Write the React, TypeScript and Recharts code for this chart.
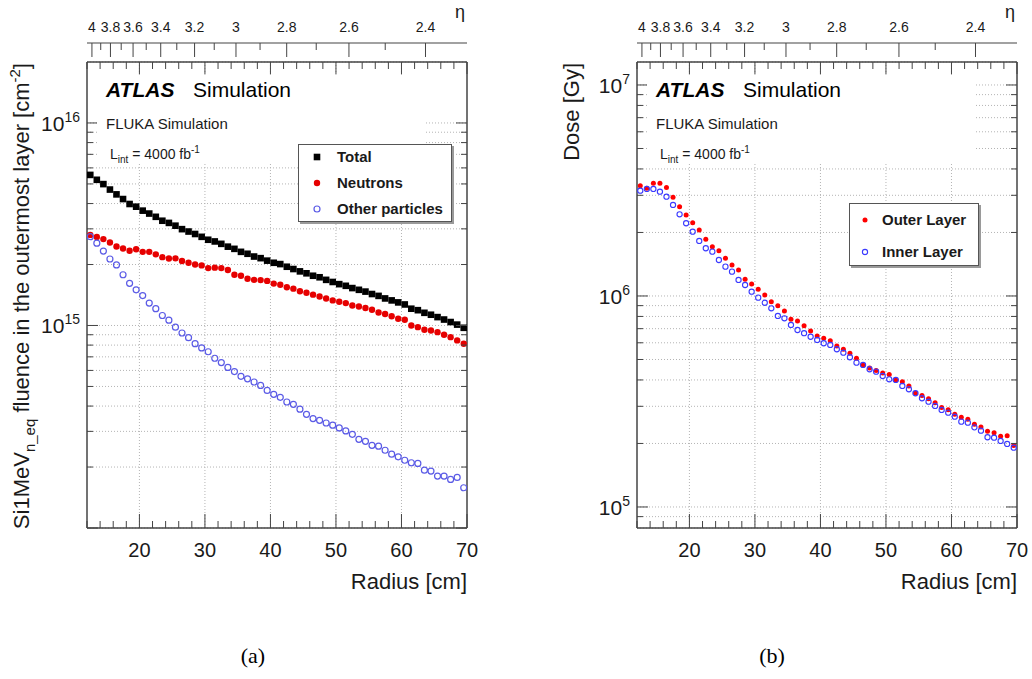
import React from 'react';
import { ScatterChart, Scatter, XAxis, YAxis, CartesianGrid, ReferenceLine, Legend } from 'recharts';

// radius of each simulated bin [cm]
const RADIUS = [
  12.5, 13.5, 14.5, 15.5, 16.5, 17.5, 18.5, 19.5, 20.5, 21.5, 22.5, 23.5, 24.5, 25.5, 26.5,
  27.5, 28.5, 29.5, 30.5, 31.5, 32.5, 33.5, 34.5, 35.5, 36.5, 37.5, 38.5, 39.5, 40.5, 41.5,
  42.5, 43.5, 44.5, 45.5, 46.5, 47.5, 48.5, 49.5, 50.5, 51.5, 52.5, 53.5, 54.5, 55.5, 56.5,
  57.5, 58.5, 59.5, 60.5, 61.5, 62.5, 63.5, 64.5, 65.5, 66.5, 67.5, 68.5, 69.5,
];

// (a) Si 1 MeV neq fluence [cm^-2]
const TOTAL = [
  5.54e15, 5.24e15, 4.99e15, 4.69e15, 4.44e15, 4.21e15, 3.98e15, 3.86e15, 3.69e15, 3.57e15,
  3.44e15, 3.29e15, 3.21e15, 3.11e15, 2.99e15, 2.91e15, 2.83e15, 2.74e15, 2.65e15, 2.6e15,
  2.53e15, 2.45e15, 2.39e15, 2.31e15, 2.26e15, 2.19e15, 2.15e15, 2.09e15, 2.04e15, 2.01e15,
  1.95e15, 1.9e15, 1.85e15, 1.81e15, 1.76e15, 1.73e15, 1.68e15, 1.64e15, 1.6e15, 1.57e15,
  1.53e15, 1.5e15, 1.47e15, 1.43e15, 1.4e15, 1.36e15, 1.33e15, 1.3e15, 1.27e15, 1.21e15,
  1.19e15, 1.155e15, 1.13e15, 1.1e15, 1.07e15, 1.04e15, 1.01e15, 0.974e15,
];
const NEUTRONS = [
  2.8e15, 2.735e15, 2.67e15, 2.57e15, 2.455e15, 2.4e15, 2.34e15, 2.38e15, 2.31e15, 2.31e15,
  2.245e15, 2.175e15, 2.14e15, 2.145e15, 2.08e15, 2.04e15, 2.0e15, 1.98e15, 1.92e15, 1.93e15,
  1.92e15, 1.88e15, 1.78e15, 1.76e15, 1.7e15, 1.68e15, 1.675e15, 1.66e15, 1.61e15, 1.59e15,
  1.545e15, 1.52e15, 1.475e15, 1.45e15, 1.42e15, 1.39e15, 1.36e15, 1.33e15, 1.31e15, 1.29e15,
  1.255e15, 1.24e15, 1.22e15, 1.195e15, 1.16e15, 1.14e15, 1.11e15, 1.08e15, 1.067e15, 1.0e15,
  0.981e15, 0.952e15, 0.945e15, 0.927e15, 0.9e15, 0.876e15, 0.844e15, 0.813e15,
];
const OTHER = [
  2.744e15, 2.55e15, 2.33e15, 2.13e15, 1.99e15, 1.78e15, 1.615e15, 1.5e15, 1.405e15, 1.29e15,
  1.21e15, 1.12e15, 1.062e15, 0.981e15, 0.918e15, 0.871e15, 0.813e15, 0.775e15, 0.742e15, 0.689e15,
  0.656e15, 0.621e15, 0.592e15, 0.561e15, 0.545e15, 0.526e15, 0.506e15, 0.478e15, 0.457e15, 0.442e15,
  0.419e15, 0.408e15, 0.386e15, 0.364e15, 0.347e15, 0.34e15, 0.33e15, 0.322e15, 0.312e15, 0.3015e15,
  0.29e15, 0.274e15, 0.268e15, 0.256e15, 0.2535e15, 0.242e15, 0.2315e15, 0.2245e15, 0.216e15, 0.21e15,
  0.2084e15, 0.193e15, 0.191e15, 0.1804e15, 0.1804e15, 0.1738e15, 0.1778e15, 0.158e15,
];

// (b) ionising dose [Gy]
const OUTER = [
  3.33e6, 3.24e6, 3.42e6, 3.42e6, 3.27e6, 2.94e6, 2.65e6, 2.42e6, 2.225e6, 2.055e6,
  1.857e6, 1.713e6, 1.639e6, 1.509e6, 1.403e6, 1.328e6, 1.2e6, 1.14e6, 1.076e6, 1.011e6,
  0.94e6, 0.9e6, 0.849e6, 0.775e6, 0.761e6, 0.723e6, 0.683e6, 0.646e6, 0.63e6, 0.614e6,
  0.579e6, 0.559e6, 0.535e6, 0.507e6, 0.471e6, 0.456e6, 0.444e6, 0.4316e6, 0.4246e6, 0.4e6,
  0.3925e6, 0.3746e6, 0.347e6, 0.3377e6, 0.3258e6, 0.3119e6, 0.2962e6, 0.2891e6, 0.2754e6, 0.2665e6,
  0.2604e6, 0.2469e6, 0.2394e6, 0.2284e6, 0.2249e6, 0.2163e6, 0.2175e6, 0.1956e6,
];
const INNER = [
  3.155e6, 3.215e6, 3.215e6, 3.121e6, 2.955e6, 2.7e6, 2.439e6, 2.211e6, 2.017e6, 1.823e6,
  1.683e6, 1.622e6, 1.481e6, 1.377e6, 1.304e6, 1.191e6, 1.127e6, 1.048e6, 0.982e6, 0.929e6,
  0.874e6, 0.804e6, 0.784e6, 0.729e6, 0.69e6, 0.666e6, 0.641e6, 0.619e6, 0.597e6, 0.586e6,
  0.559e6, 0.5385e6, 0.5124e6, 0.483e6, 0.471e6, 0.4494e6, 0.4378e6, 0.4177e6, 0.4029e6, 0.4e6,
  0.3746e6, 0.3613e6, 0.3459e6, 0.3275e6, 0.3155e6, 0.3012e6, 0.2883e6, 0.2799e6, 0.2679e6, 0.2537e6,
  0.251e6, 0.2385e6, 0.2299e6, 0.214e6, 0.213e6, 0.2055e6, 0.1989e6, 0.191e6,
];

// axis ticks
const RADIUS_TICKS = [12, 14, 16, 18, 20, 22, 24, 26, 28, 30, 32, 34, 36, 38, 40, 42, 44, 46, 48, 50, 52, 54, 56, 58, 60, 62, 64, 66, 68, 70];
const GRID_RADII = [20, 30, 40, 50, 60];
const ETA_MAJOR = [4, 3.8, 3.6, 3.4, 3.2, 3, 2.8, 2.6, 2.4];
const ETA_MINOR = [3.9, 3.7, 3.5, 3.3, 3.1, 2.9, 2.7, 2.5];
const ETA_Z = 348; // |z| of the disk [cm], r = z / sinh(eta)
const FLUENCE_TICKS = [
  1e14, 2e14, 3e14, 4e14, 5e14, 6e14, 7e14, 8e14, 9e14,
  1e15, 2e15, 3e15, 4e15, 5e15, 6e15, 7e15, 8e15, 9e15, 1e16,
];
const DOSE_TICKS = [
  9e4, 1e5, 2e5, 3e5, 4e5, 5e5, 6e5, 7e5, 8e5, 9e5,
  1e6, 2e6, 3e6, 4e6, 5e6, 6e6, 7e6, 8e6, 9e6, 1e7,
];

const ETA_RADII = [...ETA_MAJOR, ...ETA_MINOR].map(e => ETA_Z / Math.sinh(e));

const FONT = '"Liberation Sans", Arial, Helvetica, sans-serif';
const INK = '#1a1a1a';
const FRAME = '#444';
const GRID = '#b4b4b4';

// chart-local geometry (same for both pads)
const CW = 480, CH = 600;
const PL = 87, PR = 467, PT = 62, PB = 528, ETA_Y = 43;

const MARKERS: Record<string, (cx: number, cy: number) => React.ReactElement> = {
  'Total': (cx, cy) => <rect x={cx - 3.3} y={cy - 3.3} width={6.6} height={6.6} fill="#000" />,
  'Neutrons': (cx, cy) => <circle cx={cx} cy={cy} r={3.2} fill="#e60000" />,
  'Other particles': (cx, cy) => <circle cx={cx} cy={cy} r={3} fill="none" stroke="#5b5be6" strokeWidth={1.2} />,
  'Outer Layer': (cx, cy) => <circle cx={cx} cy={cy} r={2.5} fill="#f00" />,
  'Inner Layer': (cx, cy) => <circle cx={cx} cy={cy} r={2.6} fill="none" stroke="#3a3aff" strokeWidth={1.1} />,
};

const isDecade = (v: number) => {
  const l = Math.log10(v);
  return Math.abs(l - Math.round(l)) < 1e-9;
};

const leftTick = (p: any) => {
  const y = p.payload.coordinate;
  const v = p.payload.value;
  const major = isDecade(v);
  // ROOT leaves the decade sitting on the lower frame unlabelled
  const labelled = major && y < PB - 2;
  return (
    <g>
      <line x1={PL} x2={PL + (major ? 11 : 6)} y1={y} y2={y} stroke={FRAME} />
      {labelled && (
        <text x={PL - 7} y={y + 8} textAnchor="end" fontFamily={FONT} fontSize={21} fill={INK}>
          10<tspan dy={-9} fontSize={14}>{Math.round(Math.log10(v))}</tspan>
        </text>
      )}
    </g>
  );
};

const rightTick = (p: any) => {
  const y = p.payload.coordinate;
  const major = isDecade(p.payload.value);
  return <line x1={PR - (major ? 11 : 6)} x2={PR} y1={y} y2={y} stroke={FRAME} />;
};

const bottomTick = (p: any) => {
  const x = p.payload.coordinate;
  const v = p.payload.value;
  const major = v % 10 === 0;
  return (
    <g>
      <line x1={x} x2={x} y1={PB} y2={PB - (major ? 14 : 7)} stroke={FRAME} />
      {major && (
        <text x={x} y={PB + 29} textAnchor="middle" fontFamily={FONT} fontSize={20} fill={INK}>{v}</text>
      )}
    </g>
  );
};

// upper frame edge + its inward radius ticks
const topTick = (p: any) => {
  const x = p.payload.coordinate;
  const major = p.payload.value % 10 === 0;
  return (
    <g>
      {p.index === 0 && <line x1={PL} x2={PR} y1={PT} y2={PT} stroke={FRAME} strokeWidth={1.5} />}
      <line x1={x} x2={x} y1={PT} y2={PT + (major ? 12 : 7)} stroke={FRAME} />
    </g>
  );
};

// eta scale above the frame, with its own baseline at ETA_Y
const etaTick = (p: any) => {
  const x = p.payload.coordinate;
  const eta = Math.asinh(ETA_Z / p.payload.value);
  const major = ETA_MAJOR.some(e => Math.abs(e - eta) < 1e-6);
  return (
    <g>
      {p.index === 0 && <line x1={PL} x2={PR} y1={ETA_Y} y2={ETA_Y} stroke={FRAME} strokeWidth={1.2} />}
      <line x1={x} x2={x} y1={ETA_Y} y2={ETA_Y + (major ? 14 : 7)} stroke={FRAME} />
      {major && (
        <text x={x} y={ETA_Y - 11} textAnchor="middle" fontFamily={FONT} fontSize={14} fill={INK}>
          {String(Number(eta.toFixed(1)))}
        </text>
      )}
    </g>
  );
};

const FluenceTitle = (_p: any) => (
  <text transform={`translate(29, ${PT + 1}) rotate(-90)`} textAnchor="end" fontFamily={FONT} fontSize={22} fill={INK}>
    Si1MeV<tspan dy={6} fontSize={15}>n_eq</tspan>
    <tspan dy={-6}> fluence in the outermost layer [cm</tspan>
    <tspan dy={-9} fontSize={15}>-2</tspan>
    <tspan dy={9}>]</tspan>
  </text>
);

const DoseTitle = (_p: any) => (
  <text transform={`translate(29, ${PT + 1}) rotate(-90)`} textAnchor="end" fontFamily={FONT} fontSize={22} fill={INK}>
    Dose [Gy]
  </text>
);

const RadiusTitle = (_p: any) => (
  <text x={PR} y={589} textAnchor="end" fontFamily={FONT} fontSize={22} fill={INK}>Radius [cm]</text>
);

interface LegendBox { x: number; y: number; w: number; h: number; rows: number[]; markerX: number; textX: number }

interface PanelProps {
  left: number;
  series: { name: string; values: number[] }[];
  yDomain: [number, number];
  yTicks: number[];
  yTitle: React.ReactElement;
  legend: LegendBox;
}

const Panel: React.FC<PanelProps> = ({ left, series, yDomain, yTicks, yTitle, legend }) => {
  const renderLegend = () => (
    <svg width={legend.w + 3} height={legend.h + 3}>
      <rect x={2} y={2} width={legend.w} height={legend.h} fill="#9a9a9a" />
      <rect x={0.5} y={0.5} width={legend.w - 1} height={legend.h - 1} fill="#fff" stroke="#555" />
      {series.map((s, i) => (
        <g key={s.name}>
          {MARKERS[s.name](legend.markerX, legend.rows[i])}
          <text x={legend.textX} y={legend.rows[i] + 5} fontFamily={FONT} fontWeight="bold" fontSize={15} fill={INK}>{s.name}</text>
        </g>
      ))}
    </svg>
  );

  return (
    <div style={{ position: 'absolute', left, top: 0, width: CW, height: CH }}>
      <ScatterChart width={CW} height={CH} margin={{ top: PT, right: 12, bottom: 0, left: 0 }}>
        <CartesianGrid xAxisId="bottom" yAxisId="left" vertical={false} stroke={GRID} strokeDasharray="1 2" />
        {GRID_RADII.map(g => (
          <ReferenceLine key={g} x={g} xAxisId="bottom" yAxisId="left" stroke={GRID} strokeDasharray="1 2" />
        ))}
        <XAxis
          xAxisId="bottom" orientation="bottom" type="number" dataKey="r" domain={[12, 70]} allowDataOverflow
          ticks={RADIUS_TICKS} interval={0} height={72} tick={bottomTick} tickLine={false}
          axisLine={{ stroke: FRAME, strokeWidth: 1.5 }} label={<RadiusTitle />}
        />
        <XAxis
          xAxisId="eta" orientation="top" mirror type="number" dataKey="r" domain={[12, 70]} allowDataOverflow
          ticks={ETA_RADII} interval={0} height={1} tick={etaTick} tickLine={false} axisLine={false}
        />
        <XAxis
          xAxisId="rtop" orientation="top" mirror type="number" dataKey="r" domain={[12, 70]} allowDataOverflow
          ticks={RADIUS_TICKS} interval={0} height={1} tick={topTick} tickLine={false} axisLine={false}
        />
        <YAxis
          yAxisId="left" orientation="left" type="number" scale="log" dataKey="v" domain={yDomain} allowDataOverflow
          ticks={yTicks} interval={0} width={87} tick={leftTick} tickLine={false}
          axisLine={{ stroke: FRAME, strokeWidth: 1.5 }} label={yTitle}
        />
        <YAxis
          yAxisId="right" orientation="right" type="number" scale="log" dataKey="v" domain={yDomain} allowDataOverflow
          ticks={yTicks} interval={0} width={1} tick={rightTick} tickLine={false}
          axisLine={{ stroke: FRAME, strokeWidth: 1.5 }}
        />
        {series.map(s => (
          <Scatter
            key={s.name}
            name={s.name}
            xAxisId="bottom"
            yAxisId="left"
            data={RADIUS.map((r, i) => ({ r, v: s.values[i] }))}
            shape={(p: any) => MARKERS[s.name](p.cx, p.cy)}
            isAnimationActive={false}
          />
        ))}
        <Legend
          layout="vertical" align="center" verticalAlign="middle"
          wrapperStyle={{ left: legend.x, top: legend.y, width: legend.w + 3, height: legend.h + 3, zIndex: 2 }}
          content={renderLegend}
        />
      </ScatterChart>
      <svg width={CW} height={CH} style={{ position: 'absolute', left: 0, top: 0, pointerEvents: 'none', zIndex: 1 }}>
        {/* opaque text pave, as in the ROOT canvas: it hides the grid behind the labels */}
        <rect x={97} y={75} width={328} height={89} fill="#fff" />
        <text x={106} y={97} fontFamily={FONT} fontSize={21} fontWeight="bold" fontStyle="italic" fill="#000">ATLAS</text>
        <text x={193} y={97} fontFamily={FONT} fontSize={21} fill="#000">Simulation</text>
        <text x={106} y={129} fontFamily={FONT} fontSize={15} fill={INK}>FLUKA Simulation</text>
        <text x={110} y={159} fontFamily={FONT} fontSize={14} fill={INK}>
          L<tspan dy={4} fontSize={10}>int</tspan>
          <tspan dy={-4}> = 4000 fb</tspan>
          <tspan dy={-6} fontSize={10}>-1</tspan>
        </text>
        <text x={460} y={18} textAnchor="middle" fontFamily={FONT} fontSize={18} fill={INK}>η</text>
      </svg>
    </div>
  );
};

const App: React.FC = () => (
  <div style={{ position: 'absolute', left: 0, top: 0, width: 1032, height: 679, background: '#fff' }}>
    <Panel
      left={0}
      series={[
        { name: 'Total', values: TOTAL },
        { name: 'Neutrons', values: NEUTRONS },
        { name: 'Other particles', values: OTHER },
      ]}
      yDomain={[1e14, 2e16]}
      yTicks={FLUENCE_TICKS}
      yTitle={<FluenceTitle />}
      legend={{ x: 298, y: 144, w: 154, h: 78, rows: [13, 39, 65], markerX: 19, textX: 39 }}
    />
    <Panel
      left={550}
      series={[
        { name: 'Outer Layer', values: OUTER },
        { name: 'Inner Layer', values: INNER },
      ]}
      yDomain={[7.95e4, 1.285e7]}
      yTicks={DOSE_TICKS}
      yTitle={<DoseTitle />}
      legend={{ x: 299, y: 203, w: 130, h: 63, rows: [17, 49], markerX: 16, textX: 33 }}
    />
    <svg width={1032} height={79} style={{ position: 'absolute', left: 0, top: 600 }}>
      <text x={253} y={63} textAnchor="middle" fontFamily='"Liberation Serif", "DejaVu Serif", serif' fontSize={22} fill="#000">(a)</text>
      <text x={772} y={63} textAnchor="middle" fontFamily='"Liberation Serif", "DejaVu Serif", serif' fontSize={22} fill="#000">(b)</text>
    </svg>
  </div>
);

export default App;
